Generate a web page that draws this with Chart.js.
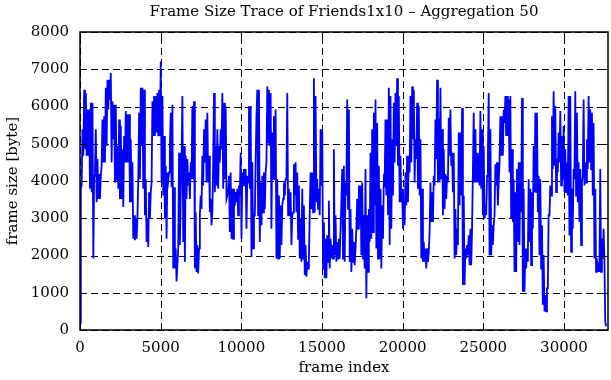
<!DOCTYPE html>
<html>
<head>
<meta charset="utf-8">
<script src="https://cdn.jsdelivr.net/npm/chart.js@4.4.1/dist/chart.umd.min.js"></script>
<style>
  html, body { margin: 0; padding: 0; background: #fff; }
  canvas { display: block; }
</style>
</head>
<body>
<canvas id="trace" width="611" height="380"></canvas>
<script>
// frame sizes, one array per ~5400 frames
const sizesA = [190, 3790, 3880, 5390, 4680, 6450, 4850, 6360, 4680, 5920, 4680, 5920, 3790, 6100, 3700, 6100, 1920, 4140, 4320, 5390, 3430, 4590, 3520, 4190, 3520, 4140, 4410, 5650, 4500, 5740, 4500, 6500, 4940, 6720, 5920, 6720, 6190, 6900, 4500, 6140, 5120, 6050, 3960, 6050, 4010, 4940, 3790, 5650, 3520, 5480, 3520, 4850, 3300, 5210, 4500, 5880, 4500, 5790, 4500, 5790, 3430, 5120, 3430, 4500, 2450, 3080, 2410, 2990, 2450, 2990, 4050, 5830, 4050, 6500, 4940, 6500, 3790, 6450, 3080, 4050, 2360, 2990, 2230, 3700, 2990, 3700, 3960, 6140, 5210, 6280, 5210, 6280, 5300, 6360, 5200, 6450, 5210, 7210, 3960, 6280, 3610, 5210];
const sizesB = [2990, 4410, 2450, 4230, 4010, 4230, 4940, 5830, 3830, 6050, 1650, 3830, 1650, 2190, 1300, 1740, 2190, 4760, 2280, 3610, 4500, 6280, 2360, 4940, 1830, 4680, 3520, 4590, 3880, 4230, 3520, 4500, 4050, 6010, 4050, 6140, 1650, 3160, 1560, 2280, 1520, 2190, 3080, 3610, 3250, 4680, 3880, 5390, 4500, 5650, 3960, 5830, 3960, 4680, 3160, 3520, 2810, 3160, 4500, 6360, 3700, 4940, 3880, 5390, 3790, 4940, 4500, 5390, 4850, 6360, 3790, 6100, 4050, 6010, 3520, 3610, 3700, 4140, 2630, 4230, 2450, 3790, 2450, 3790, 3340, 3700, 3430, 3790, 3080, 3880, 3610, 4760, 2450, 4230, 3880, 4320, 3880, 4320, 2720, 4140, 3960, 6010, 3790, 6010];
const sizesC = [1960, 4500, 2190, 3080, 3080, 4500, 5740, 6450, 3080, 6450, 2360, 3960, 2810, 4140, 3160, 4230, 3250, 4230, 4500, 6540, 5030, 6450, 4940, 6360, 2720, 5300, 4050, 5740, 4050, 5920, 1920, 4050, 1920, 3610, 1920, 3340, 2280, 3340, 3520, 3960, 3610, 4050, 4050, 6360, 3080, 3790, 3080, 3700, 2280, 3080, 3160, 4450, 3610, 4500, 3160, 4230, 2450, 3880, 1920, 2990, 1830, 3790, 1920, 3340, 1480, 2280, 1430, 1830, 1650, 1920, 3160, 4230, 3250, 4230, 3160, 6760, 3160, 6280, 3430, 4050, 3250, 3790, 3080, 5390, 3880, 5390, 1650, 2900, 1390, 2450, 1390, 2540, 1830, 3470, 1650, 2450, 1920, 2280, 1920, 4850, 2010, 3080, 1830, 2360];
const sizesD = [1920, 2450, 1920, 2720, 3430, 4320, 1920, 4410, 1830, 3960, 3610, 6190, 3250, 5920, 1830, 3250, 1560, 2720, 1830, 2360, 1740, 2190, 2720, 3520, 2720, 3880, 2810, 3880, 2010, 3960, 1920, 3080, 1650, 4320, 850, 3080, 1560, 3250, 2360, 4760, 2450, 5390, 2630, 5830, 3340, 6190, 2190, 5560, 1920, 4410, 1920, 3790, 1650, 3340, 2450, 4050, 3960, 5650, 3610, 5650, 3080, 6500, 2280, 6280, 2720, 5120, 3610, 6100, 4500, 6360, 4940, 6760, 4410, 6280, 3430, 4680, 3430, 3790, 2720, 3520, 2810, 4230, 3340, 4680, 3430, 4680, 4230, 6280, 4500, 6540, 5120, 6450, 3960, 5120, 4590, 6100, 3790, 6010, 3610, 5120, 1920, 3790, 1830, 2360];
const sizesE = [1830, 2190, 1650, 2190, 1830, 2100, 2630, 3960, 2900, 3700, 2900, 4140, 3880, 5650, 4590, 6720, 3960, 5700, 3960, 6500, 4050, 5390, 3080, 4850, 3250, 4190, 3520, 4140, 3960, 5700, 4680, 5920, 4410, 4760, 3700, 4760, 1920, 3250, 2010, 2720, 2280, 5300, 3340, 5300, 3610, 5960, 1210, 3610, 1210, 2190, 1920, 2280, 2010, 2540, 1740, 2720, 1740, 2720, 2720, 5830, 3960, 5390, 3960, 4760, 3960, 4680, 3880, 5880, 3790, 5390, 3080, 4940, 2990, 3340, 3080, 4140, 4680, 6360, 2010, 5390, 2010, 2810, 2280, 2810, 3080, 4450, 3880, 4500, 3340, 3960, 4500, 5740, 4680, 5740, 4680, 5920, 5560, 6280, 5210, 6280, 5210, 6190, 4230, 6280];
const sizesF = [2990, 4850, 2900, 4050, 1560, 3700, 1560, 4320, 2360, 4500, 2280, 4500, 3160, 6230, 1030, 3790, 1030, 2190, 1650, 2190, 1830, 4050, 2360, 3790, 1740, 3700, 2720, 4940, 3700, 5830, 3700, 5830, 3160, 4140, 2010, 4050, 1650, 2810, 680, 2010, 500, 940, 500, 1120, 1120, 3080, 3080, 3880, 3610, 5740, 4320, 6410, 4410, 6010, 3700, 4590, 4230, 5300, 4500, 5880, 3880, 5210, 4050, 5480, 3700, 4850, 3700, 4500, 3610, 6280, 2540, 6280, 2100, 3790, 2720, 4320, 4050, 6410, 3610, 5830, 3430, 4500, 2900, 4320, 2280, 3960, 4140, 6190, 3880, 4500, 3960, 5120, 4320, 6280, 4500, 5920, 4320, 5830, 3610, 5560, 1920, 3790, 1560, 1920, 1560, 1830, 1560, 4320, 1560, 2450, 1920, 2720, 1920, 230, 100];

const frameStep = 51.6;   // frames between plotted samples
const frameMax = 32730;
const xTickValues = [0, 5000, 10000, 15000, 20000, 25000, 30000];
const yTickValues = [0, 1000, 2000, 3000, 4000, 5000, 6000, 7000, 8000];

const frameSizes = [].concat(sizesA, sizesB, sizesC, sizesD, sizesE, sizesF);
const points = frameSizes.map((v, i) => ({ x: i * frameStep, y: v }));

const serif = "'DejaVu Serif', 'Liberation Serif', serif";

// gnuplot centres the title over the plot box, not the whole canvas
const titleOverPlot = {
  id: "titleOverPlot",
  afterLayout(chart) {
    const tb = chart.titleBlock;
    if (!tb) return;
    tb.left = chart.chartArea.left;
    tb.right = chart.chartArea.right;
  },
};

// dashed grid under the trace
const gridPlugin = {
  id: "dashGrid",
  beforeDatasetsDraw(chart) {
    const { ctx, chartArea: a, scales } = chart;
    ctx.save();
    ctx.strokeStyle = "#000";
    ctx.lineWidth = 1;
    ctx.setLineDash([7, 4]);
    ctx.beginPath();
    scales.x.ticks.forEach((t) => {
      const px = Math.round(scales.x.getPixelForValue(t.value)) + 0.5;
      ctx.moveTo(px, a.bottom);
      ctx.lineTo(px, a.top);
    });
    scales.y.ticks.forEach((t) => {
      const py = Math.round(scales.y.getPixelForValue(t.value)) + 0.5;
      ctx.moveTo(a.left, py);
      ctx.lineTo(a.right, py);
    });
    ctx.stroke();
    ctx.restore();
  },
};

// gnuplot style box: solid border + inward tick marks on all four sides
const framePlugin = {
  id: "frame",
  afterDraw(chart) {
    const { ctx, chartArea: a, scales } = chart;
    const len = 7;
    ctx.save();
    ctx.strokeStyle = "#000";
    ctx.setLineDash([]);
    ctx.lineWidth = 1;
    ctx.beginPath();
    scales.x.ticks.forEach((t) => {
      const px = Math.round(scales.x.getPixelForValue(t.value)) + 0.5;
      ctx.moveTo(px, a.bottom);
      ctx.lineTo(px, a.bottom - len);
      ctx.moveTo(px, a.top);
      ctx.lineTo(px, a.top + len);
    });
    scales.y.ticks.forEach((t) => {
      const py = Math.round(scales.y.getPixelForValue(t.value)) + 0.5;
      ctx.moveTo(a.left, py);
      ctx.lineTo(a.left + len, py);
      ctx.moveTo(a.right, py);
      ctx.lineTo(a.right - len, py);
    });
    ctx.stroke();
    ctx.lineWidth = 1.5;
    ctx.strokeRect(a.left, a.top, a.right - a.left, a.bottom - a.top);
    ctx.restore();
  },
};

new Chart(document.getElementById("trace"), {
  type: "line",
  data: {
    datasets: [
      {
        data: points,
        borderColor: "#0000ff",
        borderWidth: 1.8,
        pointRadius: 0,
        tension: 0,
        fill: false,
      },
    ],
  },
  options: {
    responsive: false,
    animation: false,
    devicePixelRatio: 1,
    parsing: false,
    layout: { padding: { left: 0, right: 3, top: 0, bottom: 0 } },
    plugins: {
      legend: { display: false },
      tooltip: { enabled: false },
      title: {
        display: true,
        text: "Frame Size Trace of Friends1x10 \u2013 Aggregation 50",
        color: "#000",
        font: { family: serif, size: 15, weight: "normal" },
        padding: { top: 3, bottom: 11 },
      },
    },
    scales: {
      x: {
        type: "linear",
        min: 0,
        max: frameMax,
        afterBuildTicks: (s) => { s.ticks = xTickValues.map((v) => ({ value: v })); },
        afterFit: (s) => { s.height = 50; },
        grid: { color: "rgba(0,0,0,0)", drawTicks: false },
        border: { display: false },
        ticks: { color: "#000", padding: 9, maxRotation: 0, font: { family: serif, size: 15 }, callback: (v) => String(v) },
        title: { display: true, text: "frame index", color: "#000", padding: { top: 0, bottom: 3 }, font: { family: serif, size: 15 } },
      },
      y: {
        min: 0,
        max: 8000,
        afterBuildTicks: (s) => { s.ticks = yTickValues.map((v) => ({ value: v })); },
        afterFit: (s) => { s.width = 80; },
        grid: { color: "rgba(0,0,0,0)", drawTicks: false },
        border: { display: false },
        ticks: { color: "#000", padding: 11, font: { family: serif, size: 15 }, callback: (v) => String(v) },
        title: { display: true, text: "frame size [byte]", color: "#000", padding: { top: 4, bottom: 0 }, font: { family: serif, size: 15 } },
      },
    },
  },
  plugins: [titleOverPlot, gridPlugin, framePlugin],
});
</script>
</body>
</html>
